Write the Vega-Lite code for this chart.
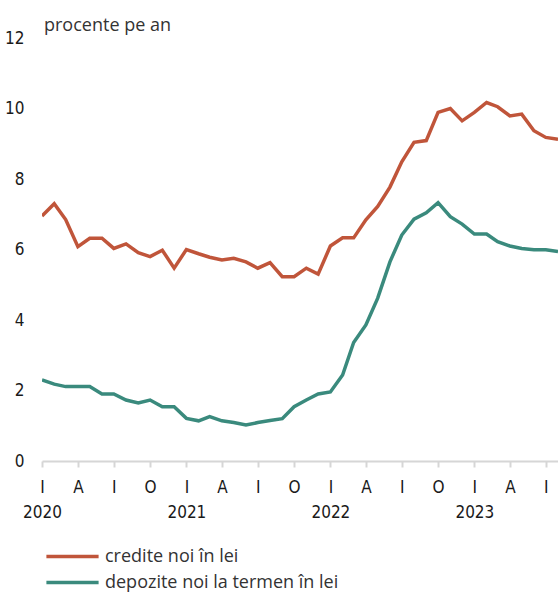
{
  "$schema": "https://vega.github.io/schema/vega-lite/v6.json",
  "width": 516,
  "height": 423,
  "autosize": "none",
  "padding": {"left": 42, "top": 38, "right": 0, "bottom": 134},
  "background": "white",
  "config": {"view": {"stroke": null}},
  "title": {"text": "procente pe an", "anchor": "start", "frame": "group", "offset": -6, "dx": 2, "font": "Open Sans", "fontSize": 18, "fontWeight": "normal", "color": "#333333"},
  "data": {"values": [
    {"date": "2020-01-01", "series": "credite noi în lei", "value": 6.95},
    {"date": "2020-02-01", "series": "credite noi în lei", "value": 7.3},
    {"date": "2020-03-01", "series": "credite noi în lei", "value": 6.85},
    {"date": "2020-04-01", "series": "credite noi în lei", "value": 6.08},
    {"date": "2020-05-01", "series": "credite noi în lei", "value": 6.32},
    {"date": "2020-06-01", "series": "credite noi în lei", "value": 6.32},
    {"date": "2020-07-01", "series": "credite noi în lei", "value": 6.03},
    {"date": "2020-08-01", "series": "credite noi în lei", "value": 6.16},
    {"date": "2020-09-01", "series": "credite noi în lei", "value": 5.91},
    {"date": "2020-10-01", "series": "credite noi în lei", "value": 5.8},
    {"date": "2020-11-01", "series": "credite noi în lei", "value": 5.98},
    {"date": "2020-12-01", "series": "credite noi în lei", "value": 5.47},
    {"date": "2021-01-01", "series": "credite noi în lei", "value": 6.0},
    {"date": "2021-02-01", "series": "credite noi în lei", "value": 5.88},
    {"date": "2021-03-01", "series": "credite noi în lei", "value": 5.78},
    {"date": "2021-04-01", "series": "credite noi în lei", "value": 5.7},
    {"date": "2021-05-01", "series": "credite noi în lei", "value": 5.75},
    {"date": "2021-06-01", "series": "credite noi în lei", "value": 5.65},
    {"date": "2021-07-01", "series": "credite noi în lei", "value": 5.47},
    {"date": "2021-08-01", "series": "credite noi în lei", "value": 5.63},
    {"date": "2021-09-01", "series": "credite noi în lei", "value": 5.23},
    {"date": "2021-10-01", "series": "credite noi în lei", "value": 5.23},
    {"date": "2021-11-01", "series": "credite noi în lei", "value": 5.47},
    {"date": "2021-12-01", "series": "credite noi în lei", "value": 5.3},
    {"date": "2022-01-01", "series": "credite noi în lei", "value": 6.1},
    {"date": "2022-02-01", "series": "credite noi în lei", "value": 6.33},
    {"date": "2022-03-01", "series": "credite noi în lei", "value": 6.33},
    {"date": "2022-04-01", "series": "credite noi în lei", "value": 6.84},
    {"date": "2022-05-01", "series": "credite noi în lei", "value": 7.22},
    {"date": "2022-06-01", "series": "credite noi în lei", "value": 7.77},
    {"date": "2022-07-01", "series": "credite noi în lei", "value": 8.49},
    {"date": "2022-08-01", "series": "credite noi în lei", "value": 9.04},
    {"date": "2022-09-01", "series": "credite noi în lei", "value": 9.09},
    {"date": "2022-10-01", "series": "credite noi în lei", "value": 9.89},
    {"date": "2022-11-01", "series": "credite noi în lei", "value": 10.0},
    {"date": "2022-12-01", "series": "credite noi în lei", "value": 9.65},
    {"date": "2023-01-01", "series": "credite noi în lei", "value": 9.89},
    {"date": "2023-02-01", "series": "credite noi în lei", "value": 10.17},
    {"date": "2023-03-01", "series": "credite noi în lei", "value": 10.05},
    {"date": "2023-04-01", "series": "credite noi în lei", "value": 9.79},
    {"date": "2023-05-01", "series": "credite noi în lei", "value": 9.84},
    {"date": "2023-06-01", "series": "credite noi în lei", "value": 9.37},
    {"date": "2023-07-01", "series": "credite noi în lei", "value": 9.18},
    {"date": "2023-08-01", "series": "credite noi în lei", "value": 9.13},
    {"date": "2020-01-01", "series": "depozite noi la termen în lei", "value": 2.3},
    {"date": "2020-02-01", "series": "depozite noi la termen în lei", "value": 2.18},
    {"date": "2020-03-01", "series": "depozite noi la termen în lei", "value": 2.11},
    {"date": "2020-04-01", "series": "depozite noi la termen în lei", "value": 2.11},
    {"date": "2020-05-01", "series": "depozite noi la termen în lei", "value": 2.11},
    {"date": "2020-06-01", "series": "depozite noi la termen în lei", "value": 1.9},
    {"date": "2020-07-01", "series": "depozite noi la termen în lei", "value": 1.9},
    {"date": "2020-08-01", "series": "depozite noi la termen în lei", "value": 1.73},
    {"date": "2020-09-01", "series": "depozite noi la termen în lei", "value": 1.65},
    {"date": "2020-10-01", "series": "depozite noi la termen în lei", "value": 1.73},
    {"date": "2020-11-01", "series": "depozite noi la termen în lei", "value": 1.54},
    {"date": "2020-12-01", "series": "depozite noi la termen în lei", "value": 1.54},
    {"date": "2021-01-01", "series": "depozite noi la termen în lei", "value": 1.21},
    {"date": "2021-02-01", "series": "depozite noi la termen în lei", "value": 1.14},
    {"date": "2021-03-01", "series": "depozite noi la termen în lei", "value": 1.26},
    {"date": "2021-04-01", "series": "depozite noi la termen în lei", "value": 1.14},
    {"date": "2021-05-01", "series": "depozite noi la termen în lei", "value": 1.09},
    {"date": "2021-06-01", "series": "depozite noi la termen în lei", "value": 1.02},
    {"date": "2021-07-01", "series": "depozite noi la termen în lei", "value": 1.09},
    {"date": "2021-08-01", "series": "depozite noi la termen în lei", "value": 1.15},
    {"date": "2021-09-01", "series": "depozite noi la termen în lei", "value": 1.2},
    {"date": "2021-10-01", "series": "depozite noi la termen în lei", "value": 1.54},
    {"date": "2021-11-01", "series": "depozite noi la termen în lei", "value": 1.73},
    {"date": "2021-12-01", "series": "depozite noi la termen în lei", "value": 1.9},
    {"date": "2022-01-01", "series": "depozite noi la termen în lei", "value": 1.96},
    {"date": "2022-02-01", "series": "depozite noi la termen în lei", "value": 2.44},
    {"date": "2022-03-01", "series": "depozite noi la termen în lei", "value": 3.36},
    {"date": "2022-04-01", "series": "depozite noi la termen în lei", "value": 3.86},
    {"date": "2022-05-01", "series": "depozite noi la termen în lei", "value": 4.62},
    {"date": "2022-06-01", "series": "depozite noi la termen în lei", "value": 5.65},
    {"date": "2022-07-01", "series": "depozite noi la termen în lei", "value": 6.41},
    {"date": "2022-08-01", "series": "depozite noi la termen în lei", "value": 6.86},
    {"date": "2022-09-01", "series": "depozite noi la termen în lei", "value": 7.04},
    {"date": "2022-10-01", "series": "depozite noi la termen în lei", "value": 7.33},
    {"date": "2022-11-01", "series": "depozite noi la termen în lei", "value": 6.93},
    {"date": "2022-12-01", "series": "depozite noi la termen în lei", "value": 6.72},
    {"date": "2023-01-01", "series": "depozite noi la termen în lei", "value": 6.44},
    {"date": "2023-02-01", "series": "depozite noi la termen în lei", "value": 6.44},
    {"date": "2023-03-01", "series": "depozite noi la termen în lei", "value": 6.22},
    {"date": "2023-04-01", "series": "depozite noi la termen în lei", "value": 6.1},
    {"date": "2023-05-01", "series": "depozite noi la termen în lei", "value": 6.03},
    {"date": "2023-06-01", "series": "depozite noi la termen în lei", "value": 5.99},
    {"date": "2023-07-01", "series": "depozite noi la termen în lei", "value": 5.99},
    {"date": "2023-08-01", "series": "depozite noi la termen în lei", "value": 5.94}
  ]},
  "mark": {"type": "line", "strokeWidth": 3.5, "clip": true, "strokeJoin": "miter", "strokeCap": "butt"},
  "encoding": {
    "x": {
      "field": "date", "type": "temporal",
      "scale": {"type": "utc", "domain": [{"year": 2020, "month": 1, "date": 1, "utc": true}, {"year": 2023, "month": 8, "date": 1, "utc": true}]},
      "axis": {
        "title": null,
        "grid": false,
        "tickCount": {"interval": "month", "step": 3},
        "labelExpr": "utcmonth(datum.value) == 0 ? ['I', utcFormat(datum.value, '%Y')] : ['', '', '', 'A', '', '', 'I', '', '', 'O', '', ''][utcmonth(datum.value)]",
        "labelFont": "DejaVu Sans Condensed, Roboto",
        "labelFontSize": 17,
        "labelColor": "#1a1a1a",
        "labelLineHeight": 25.5,
        "labelPadding": 12,
        "labelOverlap": false,
        "labelBound": false,
        "labelFlush": false,
        "domainColor": "#d6d6d6",
        "domainWidth": 2,
        "tickColor": "#d6d6d6",
        "tickWidth": 2,
        "tickSize": 6
      }
    },
    "y": {
      "field": "value", "type": "quantitative",
      "scale": {"domain": [0, 12], "nice": false, "zero": true},
      "axis": {
        "title": null,
        "values": [0, 2, 4, 6, 8, 10, 12],
        "grid": false,
        "domain": false,
        "ticks": false,
        "tickSize": 0,
        "labelPadding": 18,
        "labelFont": "DejaVu Sans Condensed, Roboto",
        "labelFontSize": 17,
        "labelColor": "#1a1a1a"
      }
    },
    "color": {
      "field": "series", "type": "nominal",
      "scale": {"domain": ["credite noi în lei", "depozite noi la termen în lei"], "range": ["#c0553a", "#3a8a7d"]},
      "legend": {
        "title": null,
        "orient": "none",
        "legendX": 14,
        "legendY": 502,
        "direction": "vertical",
        "padding": 0,
        "symbolType": "M-1.8,0H1.8",
        "symbolSize": 841,
        "symbolStrokeWidth": 3.5,
        "labelOffset": 16,
        "rowPadding": 0,
        "labelFont": "Open Sans",
        "labelFontSize": 18,
        "labelColor": "#333333",
        "labelLimit": 400
      }
    }
  }
}
